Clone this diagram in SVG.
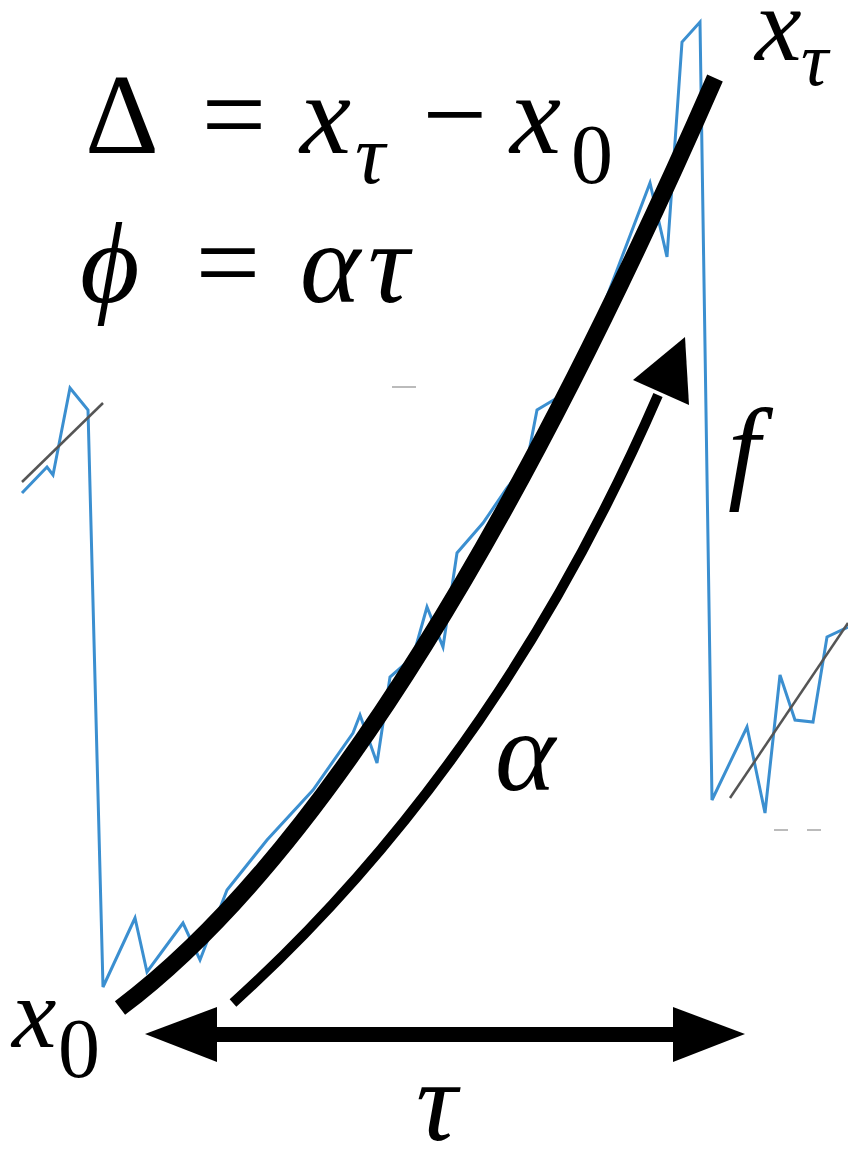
<svg xmlns="http://www.w3.org/2000/svg" width="848" height="1156" viewBox="0 0 848 1156">
<style>
text{font-family:'Liberation Serif','Times New Roman',serif;fill:#000}
.i{font-style:italic}
.wave{fill:none;stroke:#3b8fd0;stroke-width:3;stroke-linejoin:miter}
.trend{fill:none;stroke:#555;stroke-width:2.5}
.faint{stroke:#bbb;stroke-width:2}
</style>
<rect width="848" height="1156" fill="#fff"/>
<g id="signal">
<polyline class="wave" points="22,493 47,467 53,475 70,388 88,410 103,987 135,918 147,972 183,923 200,960 227,890 267,840 313,790 353,733 360,715 377,763 390,677 413,657 427,607 443,647 457,553 483,523 507,488 527,462 537,410 557,398 603,307 650,183 667,257 682,42 700,22 712,800 747,727 765,813 780,675 795,720 813,722 827,637 848,627"/>
<line class="trend" x1="22" y1="482" x2="103" y2="403"/>
<line class="trend" x1="730" y1="798" x2="848" y2="623"/>
<line class="faint" x1="392" y1="387" x2="416" y2="387"/>
<line class="faint" x1="774" y1="830" x2="788" y2="830"/>
<line class="faint" x1="807" y1="830" x2="821" y2="830"/>
</g>
<g id="fit">
<path d="M120,1008 Q400,798 715,78" fill="none" stroke="#000" stroke-width="17"/>
</g>
<g id="connectors">
<path d="M233,1003 Q498,763 658,395" fill="none" stroke="#000" stroke-width="10"/>
<polygon points="685,337 633,380 689,405" fill="#000"/>
<rect x="210" y="1027" width="470" height="15" fill="#000"/>
<polygon points="145,1034 217,1007 217,1062" fill="#000"/>
<polygon points="745,1034 673,1007 673,1062" fill="#000"/>
</g>
<g id="eq1">
<text x="85" y="153" font-size="115">Δ</text>
<text x="234" y="153" font-size="115" text-anchor="middle">=</text>
<text class="i" x="300" y="153" font-size="115">x</text>
<text class="i" x="355" y="183" font-size="84">τ</text>
<text x="455" y="153" font-size="115" text-anchor="middle">−</text>
<text class="i" x="510" y="153" font-size="115">x</text>
<text x="571" y="183" font-size="84">0</text>
</g>
<g id="eq2">
<text class="i" x="80" y="302" font-size="115">ϕ</text>
<text x="228" y="301" font-size="115" text-anchor="middle">=</text>
<text class="i" x="300" y="302" font-size="115">α</text>
<text class="i" x="368" y="302" font-size="115">τ</text>
</g>
<g id="label-xtau">
<text class="i" x="755" y="60" font-size="105">x</text>
<text class="i" x="801" y="85" font-size="76">τ</text>
</g>
<g id="label-f"><text class="i" x="728" y="488" font-size="115">f</text></g>
<g id="label-alpha"><text class="i" x="495" y="790" font-size="115">α</text></g>
<g id="label-tau"><text class="i" x="416" y="1140" font-size="115">τ</text></g>
<g id="label-x0">
<text class="i" x="12" y="1047" font-size="100">x</text>
<text x="58" y="1077" font-size="84">0</text>
</g>
</svg>
